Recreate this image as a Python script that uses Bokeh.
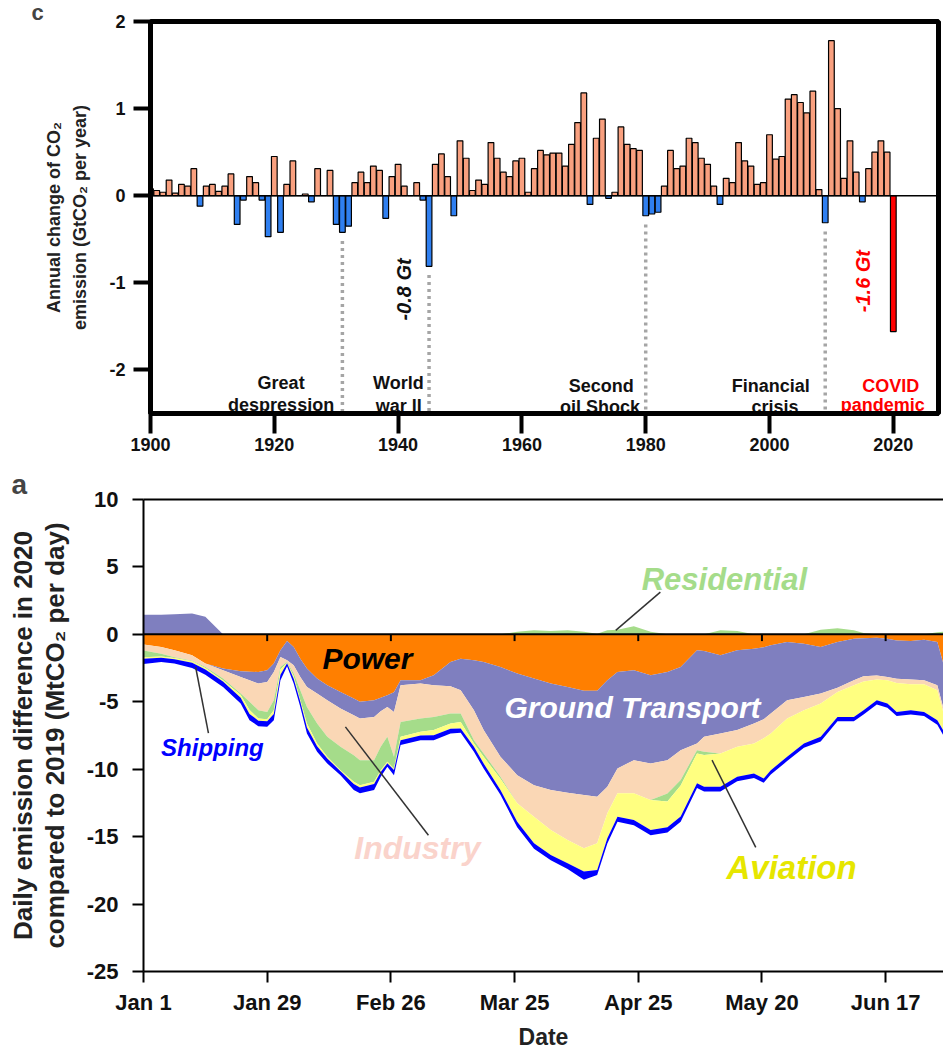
import numpy as np
from bokeh.plotting import figure
from bokeh.models import Range1d, FixedTicker, Title, Span, LinearAxis
from bokeh.embed import file_html
from bokeh.resources import INLINE
from bokeh.core.properties import value

FONT = "Liberation Sans"

# ---------------- Panel c : annual change of global CO2 emissions (GtCO2 / yr)
years = list(range(1900, 2021))
annual_change = [
    0.08, 0.06, 0.04, 0.18, 0.03, 0.13, 0.11, 0.31, -0.12, 0.11,   # 1900-1909
    0.13, 0.05, 0.11, 0.25, -0.33, -0.05, 0.22, 0.15, -0.05, -0.47,  # 1910-1919
    0.45, -0.42, 0.13, 0.40, 0.00, 0.02, -0.07, 0.31, 0.00, 0.29,    # 1920-1929
    -0.33, -0.42, -0.35, 0.15, 0.27, 0.15, 0.34, 0.29, -0.26, 0.22,  # 1930-1939
    0.36, 0.11, 0.00, 0.15, -0.05, -0.81, 0.36, 0.48, 0.22, -0.23,   # 1940-1949
    0.63, 0.43, 0.06, 0.18, 0.13, 0.61, 0.43, 0.27, 0.22, 0.40,      # 1950-1959
    0.43, 0.04, 0.31, 0.52, 0.47, 0.49, 0.49, 0.34, 0.59, 0.84,      # 1960-1969
    1.18, -0.10, 0.66, 0.88, -0.03, 0.04, 0.79, 0.59, 0.54, 0.52,    # 1970-1979
    -0.23, -0.21, -0.19, 0.11, 0.52, 0.31, 0.34, 0.66, 0.61, 0.43,   # 1980-1989
    0.36, 0.11, -0.10, 0.20, 0.15, 0.61, 0.40, 0.34, 0.13, 0.15,     # 1990-1999
    0.70, 0.42, 0.45, 1.11, 1.16, 1.07, 0.95, 1.20, 0.07, -0.31,     # 2000-2009
    1.78, 1.00, 0.20, 0.63, 0.27, -0.07, 0.31, 0.50, 0.63, 0.50,     # 2010-2019
    -1.56,                                                           # 2020
]
event_years = [1931, 1945, 1980, 2009]
event_line1 = ["Great", "World", "Second", "Financial", "COVID"]
event_line2 = ["despression", "war II", "oil Shock", "crisis", "pandemic"]

# ---------------- Panel a : daily emission difference 2020 vs 2019 (MtCO2 / day)
days = [0, 4, 7, 11, 14, 18, 22, 24, 26, 28, 29.5, 31, 32.5, 34, 35.5, 37, 39.3, 41.6,
        44.6, 47.6, 49, 52.2, 53.7, 55.2, 56.7, 58.2, 62.7, 65.7, 69.5, 71.8, 74.8, 77,
        80.8, 84.6, 88.4, 92.2, 96, 99.7, 102.7, 105, 107.3, 111, 114.8, 118.6, 121.6,
        125.3, 126.9, 130.6, 134.4, 138.2, 140.4, 142, 145.7, 149.5, 153.3, 157.1,
        160.8, 163, 166, 168.4, 170.5, 173.7, 176.7, 179.7, 181]
power = [-0.75, -0.94, -1.18, -1.55, -2.17, -2.54, -2.74, -2.77, -2.79, -2.66, -2.17, -1.18,
         -0.49, -0.94, -1.80, -2.54, -3.28, -3.77, -4.27, -4.76, -5.00, -4.89, -4.70, -4.52,
         -4.30, -3.40, -3.40, -3.03, -2.05, -1.80, -1.92, -2.05, -2.42, -2.91, -3.28, -3.65,
         -3.90, -4.19, -4.19, -3.40, -2.79, -2.66, -3.03, -2.79, -2.42, -1.18, -1.23, -1.55,
         -1.18, -1.06, -0.95, -0.81, -0.57, -0.69, -0.94, -0.57, -0.32, -0.28, -0.25, -0.32,
         -0.45, -0.50, -0.40, -0.57, -2.10]
ground_transport = [1.45, 1.45, 1.50, 1.55, 1.30, -0.12, -0.42, -0.63, -0.86, -0.87, -0.62,
                    -0.50, -1.43, -1.36, -1.36, -1.36, -1.11, -1.12, -1.23, -1.24, -1.24,
                    -1.23, -1.00, -0.86, -1.45, -0.37, -0.25, -0.74, -1.80, -2.35, -3.71,
                    -5.05, -6.66, -7.53, -7.90, -7.90, -7.84, -7.73, -7.85, -7.90, -7.15,
                    -6.67, -6.54, -6.54, -6.18, -6.92, -6.37, -5.80, -5.92, -5.55, -5.35,
                    -5.06, -4.32, -3.95, -3.45, -3.38, -3.08, -2.82, -2.80, -2.84, -2.85,
                    -2.85, -3.00, -3.20, -3.28]
industry = [-0.45, -0.50, -0.52, -0.40, -0.25, -0.62, -1.23, -1.60, -1.98, -2.22, -2.10, -0.74,
            -0.13, -0.61, -0.99, -1.48, -2.22, -2.71, -2.84, -2.96, -3.09, -3.21, -2.64, -2.22,
            -3.33, -2.72, -2.59, -2.35, -2.02, -1.72, -2.22, -1.73, -1.48, -2.09, -2.34, -2.96,
            -3.51, -3.94, -3.45, -1.97, -1.85, -2.46, -2.72, -2.47, -2.20, -0.49, -1.11, -1.48,
            -1.24, -1.48, -1.40, -1.48, -1.35, -0.99, -0.74, -0.32, -0.37, -0.40, -0.30, -0.24,
            -0.30, -0.35, -0.30, -0.38, -0.32]
residential = [-0.50, -0.20, -0.05, -0.05, -0.08, -0.12, -0.11, -0.60, -0.61, -0.55, -0.74,
               -0.18, -0.05, -0.19, -0.74, -1.23, -1.48, -1.48, -1.73, -1.97, -1.85, -1.60,
               -1.73, -1.85, -0.86, -1.11, -0.99, -0.98, -0.74, -0.63, -0.24, -0.25, -0.14,
               0.20, 0.30, 0.25, 0.30, 0.20, 0.05, 0.30, 0.35, 0.60, 0.20, -0.60, -0.40,
               -0.24, -0.24, 0.30, 0.25, 0.00, 0.00, 0.00, 0.00, 0.00, 0.35, 0.45, 0.30,
               0.10, 0.00, 0.00, 0.00, 0.00, 0.00, 0.15, 0.20]
aviation = [-0.10, -0.10, -0.10, -0.10, -0.10, -0.10, -0.20, -0.30, -0.16, -0.15, -0.27, -0.40,
            -0.05, -0.20, -0.11, -0.29, -0.21, -0.12, -0.08, -0.17, -0.17, -0.17, -0.13, -0.10,
            -0.11, -0.25, -0.27, -0.38, -0.39, -0.48, -0.25, -0.49, -0.85, -1.36, -1.97, -1.85,
            -1.73, -1.73, -1.98, -1.85, -1.73, -1.98, -2.22, -1.90, -2.30, -2.22, -2.35, -2.47,
            -2.22, -2.22, -2.98, -2.72, -2.84, -2.46, -2.47, -1.85, -2.35, -2.13, -1.54, -1.73,
            -2.15, -1.93, -2.05, -2.22, -1.40]
shipping = [-0.40, -0.31, -0.32, -0.40, -0.40, -0.40, -0.43, -0.47, -0.41, -0.41, -0.47, -0.40,
            -0.22, -0.35, -0.38, -0.45, -0.41, -0.37, -0.29, -0.45, -0.44, -0.45, -0.36, -0.27,
            -0.39, -0.35, -0.35, -0.37, -0.35, -0.32, -0.36, -0.38, -0.35, -0.41, -0.41, -0.39,
            -0.42, -0.60, -0.38, -0.38, -0.38, -0.38, -0.39, -0.40, -0.40, -0.35, -0.35, -0.35,
            -0.34, -0.34, -0.32, -0.33, -0.32, -0.31, -0.35, -0.33, -0.33, -0.32, -0.31, -0.32,
            -0.30, -0.32, -0.30, -0.33, -0.35]
sector_names = ["Power", "Ground Transport", "Industry", "Residential", "Aviation", "Shipping"]
tick_days = [0, 28, 56, 84, 112, 140, 168]
tick_labels = ["Jan 1", "Jan 29", "Feb 26", "Mar 25", "Apr 25", "May 20", "Jun 17"]

# ---------------------------------------------------------------- styles
POS_C, NEG_C, COVID_C = "#F9A07F", "#2F7FF0", "#FF0000"
SECTOR_COLORS = ["#FF7F00", "#7F7FBF", "#FAD7B5", "#A5DC8A", "#FFFF80", "#0000FF"]


def base_axis_style(ax, size):
    ax.major_tick_in = 0
    ax.minor_tick_line_color = None
    ax.major_label_text_font = FONT
    ax.major_label_text_font_style = "bold"
    ax.major_label_text_font_size = size
    ax.major_label_text_color = "#111111"
    ax.axis_label_text_font = FONT
    ax.axis_label_text_font_style = "bold"
    ax.axis_label_text_color = "#222222"


# ================================================================ panel c
p1 = figure(width=943, height=460, x_range=Range1d(1900, 2027.3), y_range=Range1d(-2.5, 2.0),
            output_backend="svg", toolbar_location=None,
            min_border_left=150, min_border_right=5, min_border_top=21, min_border_bottom=47)
p1.grid.visible = False
p1.outline_line_color = "black"
p1.outline_line_width = 5
for ax in (p1.xaxis[0], p1.yaxis[0]):
    base_axis_style(ax, "18px")
    ax.axis_line_width = 5
    ax.major_tick_line_width = 4
p1.xaxis.major_tick_out = 20
p1.yaxis.major_tick_out = 17
p1.xaxis.major_label_standoff = 4
p1.yaxis.major_label_standoff = 8
p1.xaxis.ticker = FixedTicker(ticks=list(range(1900, 2021, 20)))
y1_ticks = [-2, -1, 0, 1, 2]
p1.yaxis.ticker = FixedTicker(ticks=y1_ticks)
p1.yaxis.major_label_overrides = {t: str(t) for t in y1_ticks}
p1.yaxis.axis_label = "Annual change of CO₂\nemission (GtCO₂ per year)"
p1.yaxis.axis_label_text_font_size = "18px"
p1.yaxis.axis_label_text_line_height = 1.33
p1.yaxis.axis_label_standoff = 16

p1.add_layout(Title(text="c", align="left", offset=-119, text_font=FONT,
                    text_font_size="22px", text_font_style="bold", standoff=-7), "above")

bar_colors = [COVID_C if y == 2020 else (POS_C if v >= 0 else NEG_C)
              for y, v in zip(years, annual_change)]
p1.vbar(x=years, top=annual_change, bottom=0, width=0.92, fill_color=bar_colors,
        line_color="black", line_width=1.2)
p1.add_layout(Span(location=0, dimension="width", line_color="black", line_width=1.5))

ev_top = [min(annual_change[years.index(y)], 0) - 0.1 for y in event_years]
p1.segment(x0=event_years, y0=ev_top, x1=event_years, y1=[-2.5] * len(event_years),
           line_color="#A5A5A5", line_width=3.5, line_dash="3 4")

l1_x = [1921.1, 1940.05, 1972.8, 2000.2, 2019.6]
l1_y = [-2.15, -2.15, -2.18, -2.19, -2.19]
l2_x = [1921.1, 1940.1, 1972.6, 2000.9, 2018.3]
l2_y = [-2.40, -2.41, -2.42, -2.43, -2.40]
txt_colors = ["#111111"] * 4 + [COVID_C]
p1.text(x=l1_x, y=l1_y, text=event_line1, text_color=txt_colors, text_font=value(FONT),
        text_font_style="bold", text_font_size="18px", text_align="center",
        text_baseline="alphabetic")
p1.text(x=l2_x, y=l2_y, text=event_line2, text_color=txt_colors, text_font=value(FONT),
        text_font_style="bold", text_font_size="18px", text_align="center",
        text_baseline="alphabetic")
p1.text(x=[1940.95], y=[-1.076], text=["-0.8 Gt"], angle=np.pi / 2, text_color="#111111",
        text_font=value(FONT), text_font_style="bold italic", text_font_size="20px",
        text_align="center", text_baseline="middle")
p1.text(x=[2015.1], y=[-0.98], text=["-1.6 Gt"], angle=np.pi / 2, text_color=COVID_C,
        text_font=value(FONT), text_font_style="bold italic", text_font_size="20px",
        text_align="center", text_baseline="middle")

# ================================================================ panel a
p2 = figure(width=943, height=592, x_range=Range1d(0, 181.1), y_range=Range1d(-25, 10),
            output_backend="svg", toolbar_location=None,
            min_border_left=143, min_border_right=0, min_border_top=39, min_border_bottom=80)
p2.grid.visible = False
p2.outline_line_color = None
for ax in (p2.xaxis[0], p2.yaxis[0]):
    base_axis_style(ax, "22px")
    ax.axis_line_width = 2
    ax.major_tick_line_width = 2
    ax.major_tick_out = 11
p2.xaxis.ticker = FixedTicker(ticks=tick_days)
p2.xaxis.major_label_overrides = {d: t for d, t in zip(tick_days, tick_labels)}
p2.xaxis.major_label_standoff = 7
y2_ticks = list(range(-25, 11, 5))
p2.yaxis.ticker = FixedTicker(ticks=y2_ticks)
p2.yaxis.major_label_overrides = {t: str(t) for t in y2_ticks}
p2.yaxis.major_label_standoff = 14
p2.yaxis.axis_label = "Daily emission difference in 2020\ncompared to 2019 (MtCO₂ per day)"
p2.yaxis.axis_label_text_font_size = "26px"
p2.yaxis.axis_label_text_line_height = 1.06
p2.yaxis.axis_label_standoff = 14
p2.xaxis.axis_label = "Date"
p2.xaxis.axis_label_text_font_size = "23px"
p2.xaxis.axis_label_standoff = 6

top_ax = LinearAxis(ticker=FixedTicker(ticks=[]), major_tick_line_color=None,
                    minor_tick_line_color=None, axis_line_width=2)
p2.add_layout(top_ax, "above")
p2.add_layout(Title(text="a", align="left", offset=-132, text_font=FONT,
                    text_font_size="28px", text_font_style="bold", standoff=0), "above")

vals = np.array([power, ground_transport, industry, residential, aviation, shipping])
neg = np.minimum(vals, 0)
pos = np.maximum(vals, 0)
neg_low = np.cumsum(neg, axis=0)
neg_high = neg_low - neg
pos_high = np.cumsum(pos, axis=0)
pos_low = pos_high - pos
for i, c in enumerate(SECTOR_COLORS):
    p2.varea(x=days, y1=neg_high[i], y2=neg_low[i], fill_color=c)
    p2.varea(x=days, y1=pos_low[i], y2=pos_high[i], fill_color=c)

p2.add_layout(Span(location=0, dimension="width", line_color="black", line_width=2))
p2.segment(x0=tick_days[1:], y0=[0] * 6, x1=tick_days[1:], y1=[-0.5] * 6,
           line_color="black", line_width=2)

# pointer lines from labels to areas
p2.segment(x0=[106.9, 11.8, 45.7, 128.7], y0=[0.3, -2.42, -6.86, -9.33],
           x1=[117.0, 14.7, 64.5, 138.6], y1=[3.13, -7.33, -14.9, -15.8],
           line_color="#333333", line_width=1.5)

labels = [("Power", 50.7, -1.78, "#000000", "30px"),
          ("Ground Transport", 110.7, -5.4, "#FFFFFF", "30px"),
          ("Residential", 131.5, 4.07, "#A5DC8A", "31px"),
          ("Industry", 62.0, -15.84, "#FAD3CB", "32px"),
          ("Aviation", 146.7, -17.3, "#E6E600", "33px"),
          ("Shipping", 15.6, -8.4, "#0000FF", "24px")]
for t, x, y, c, s in labels:
    p2.text(x=[x], y=[y], text=[t], text_color=c, text_font=value(FONT),
            text_font_style="bold italic", text_font_size=s, text_align="center",
            text_baseline="middle")

# two independent roots, stacked, so each panel keeps its own frame position
open("out.html", "w").write(file_html([p1, p2], INLINE, title="CO2 emissions"))
